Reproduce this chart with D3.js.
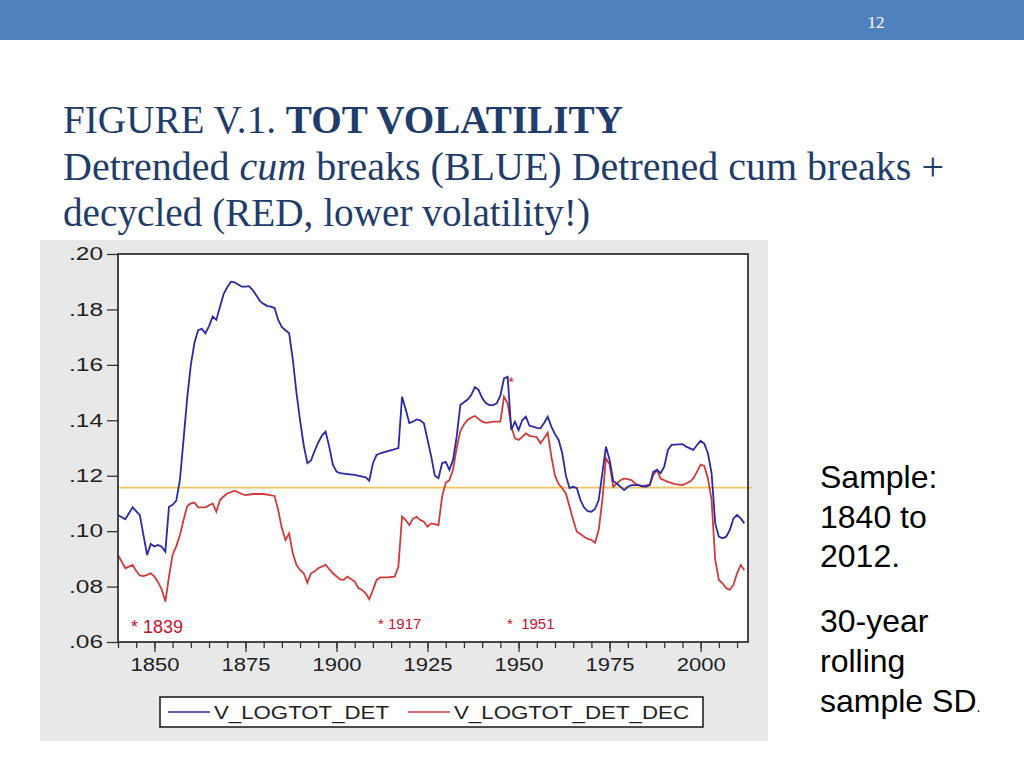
<!DOCTYPE html>
<html>
<head>
<meta charset="utf-8">
<script src="https://cdn.jsdelivr.net/npm/d3@7"></script>
<style>
  html, body { margin: 0; padding: 0; background: #fff; }
  svg { display: block; }
</style>
</head>
<body>
<svg id="slide" width="1024" height="768"></svg>
<script>
// series (year, rolling SD)
const blueYears = [1840,1842,1844,1846,1847,1848,1849,1850,1851,1852,1853,1854,1855,1856,1857,1858,1859,1860,1861,1862,1863,1864,1865,1866,1867,1868,1869,1870,1871,1872,1873,1874,1875,1876,1877,1878,1879,1880,1881,1882,1883,1884,1885,1886,1887,1888,1889,1890,1891,1892,1893,1894,1895,1896,1897,1898,1899,1900,1901,1903,1905,1908,1909,1910,1911,1912,1917,1918,1919,1920,1921,1922,1923,1924,1925,1926,1927,1928,1929,1930,1931,1932,1933,1934,1935,1936,1937,1938,1939,1940,1941,1942,1943,1944,1945,1946,1947,1948,1949,1950,1951,1952,1953,1954,1955,1956,1957,1958,1959,1960,1961,1962,1963,1964,1965,1966,1967,1968,1969,1970,1971,1972,1973,1974,1975,1976,1977,1978,1979,1980,1981,1983,1985,1986,1987,1988,1989,1990,1991,1992,1995,1996,1998,1999,2000,2001,2002,2003,2004,2005,2006,2007,2008,2009,2010,2011,2012];
const blueValues = [0.1058,0.1043,0.1086,0.1058,0.0985,0.0914,0.0954,0.0945,0.0950,0.0944,0.0926,0.1088,0.1095,0.1110,0.1184,0.1330,0.1480,0.1600,0.1680,0.1725,0.1730,0.1714,0.1740,0.1774,0.1762,0.1810,0.1855,0.1880,0.1900,0.1898,0.1890,0.1882,0.1882,0.1884,0.1870,0.1850,0.1830,0.1820,0.1812,0.1810,0.1805,0.1762,0.1736,0.1725,0.1714,0.1620,0.1500,0.1400,0.1310,0.1245,0.1255,0.1290,0.1320,0.1345,0.1359,0.1305,0.1240,0.1215,0.1209,0.1206,0.1203,0.1194,0.1182,0.1245,0.1275,0.1281,0.1300,0.1485,0.1440,0.1390,0.1395,0.1403,0.1400,0.1389,0.1330,0.1270,0.1200,0.1191,0.1245,0.1250,0.1221,0.1257,0.1341,0.1455,0.1465,0.1475,0.1491,0.1520,0.1510,0.1480,0.1462,0.1455,0.1455,0.1461,0.1490,0.1551,0.1557,0.1365,0.1395,0.1365,0.1400,0.1413,0.1380,0.1377,0.1373,0.1371,0.1390,0.1413,0.1377,0.1350,0.1329,0.1281,0.1200,0.1155,0.1160,0.1155,0.1112,0.1085,0.1072,0.1070,0.1080,0.1112,0.1209,0.1305,0.1257,0.1180,0.1172,0.1160,0.1148,0.1160,0.1166,0.1166,0.1160,0.1166,0.1214,0.1221,0.1209,0.1233,0.1293,0.1311,0.1314,0.1305,0.1293,0.1311,0.1326,0.1315,0.1281,0.1209,0.1028,0.0980,0.0974,0.0980,0.1004,0.1046,0.1058,0.1046,0.1028];

const redYears = [1840,1841,1842,1843,1844,1845,1846,1847,1848,1849,1850,1851,1852,1853,1854,1855,1856,1857,1858,1859,1860,1861,1862,1864,1866,1867,1868,1869,1870,1872,1874,1875,1877,1880,1883,1884,1885,1886,1887,1888,1889,1890,1891,1892,1893,1894,1895,1897,1899,1901,1902,1903,1905,1906,1907,1908,1909,1910,1911,1912,1914,1916,1917,1918,1919,1920,1921,1922,1923,1924,1925,1926,1927,1928,1929,1930,1931,1932,1933,1934,1935,1936,1937,1938,1939,1940,1941,1943,1945,1946,1947,1948,1949,1950,1951,1952,1953,1955,1956,1957,1958,1959,1960,1961,1962,1963,1964,1965,1966,1967,1968,1969,1970,1971,1972,1973,1974,1975,1976,1977,1978,1979,1981,1982,1984,1985,1986,1987,1988,1989,1991,1993,1995,1997,1998,1999,2000,2001,2002,2003,2004,2005,2006,2007,2008,2009,2010,2011,2012];
const redValues = [0.0914,0.0890,0.0866,0.0872,0.0878,0.0856,0.0840,0.0838,0.0842,0.0848,0.0836,0.0816,0.0790,0.0746,0.0836,0.0915,0.0945,0.0985,0.1040,0.1090,0.1100,0.1103,0.1086,0.1086,0.1100,0.1070,0.1112,0.1125,0.1136,0.1146,0.1134,0.1130,0.1134,0.1134,0.1127,0.1075,0.1010,0.0968,0.0992,0.0920,0.0878,0.0860,0.0848,0.0814,0.0848,0.0855,0.0866,0.0878,0.0848,0.0826,0.0824,0.0836,0.0818,0.0795,0.0788,0.0776,0.0754,0.0788,0.0824,0.0833,0.0833,0.0836,0.0872,0.1052,0.1040,0.1022,0.1045,0.1052,0.1040,0.1034,0.1016,0.1028,0.1025,0.1022,0.1124,0.1175,0.1184,0.1221,0.1300,0.1360,0.1385,0.1401,0.1410,0.1415,0.1405,0.1395,0.1391,0.1395,0.1395,0.1485,0.1461,0.1377,0.1335,0.1329,0.1340,0.1353,0.1344,0.1339,0.1317,0.1335,0.1355,0.1270,0.1200,0.1170,0.1155,0.1136,0.1088,0.1040,0.0998,0.0990,0.0980,0.0972,0.0968,0.0958,0.1004,0.1112,0.1263,0.1240,0.1160,0.1172,0.1184,0.1190,0.1184,0.1172,0.1160,0.1166,0.1166,0.1203,0.1221,0.1190,0.1178,0.1170,0.1166,0.1178,0.1190,0.1215,0.1240,0.1235,0.1190,0.1112,0.0896,0.0824,0.0812,0.0795,0.0788,0.0806,0.0848,0.0878,0.0860];

const refLevel = 0.1157;
const yTicks = [0.06, 0.08, 0.10, 0.12, 0.14, 0.16, 0.18, 0.20];
const xMajorTicks = [1850, 1875, 1900, 1925, 1950, 1975, 2000];
const xMinorTicks = d3.range(1840, 2011, 5);
const seriesNames = ["V_LOGTOT_DET", "V_LOGTOT_DET_DEC"];
const notes = [
  { year: 1839, text: "* 1839", x: 131, y: 633, size: 18 },
  { year: 1917, text: "* 1917", x: 378, y: 629, size: 15 },
  { year: 1951, text: "*  1951", x: 507, y: 629, size: 15 }
];

const blueColor = "#2a2aa6";
const redColor = "#d03a3a";

const svg = d3.select("#slide");

// slide chrome
svg.append("rect").attr("x", 0).attr("y", 0).attr("width", 1024).attr("height", 40).attr("fill", "#4f81bd");
svg.append("text").attr("x", 876).attr("y", 28).attr("text-anchor", "middle")
  .attr("font-family", "Liberation Serif, serif").attr("font-size", 17).attr("fill", "#fff").text("12");

const titleColor = "#1f3d6b";
const t1 = svg.append("text").attr("x", 63).attr("y", 133)
  .attr("font-family", "Liberation Serif, serif").attr("font-size", 39).attr("fill", titleColor)
  .attr("textLength", 560).attr("lengthAdjust", "spacingAndGlyphs");
t1.append("tspan").text("FIGURE V.1. ");
t1.append("tspan").attr("font-weight", "bold").text("TOT VOLATILITY");

const t2 = svg.append("text").attr("x", 63).attr("y", 180)
  .attr("font-family", "Liberation Serif, serif").attr("font-size", 39).attr("fill", titleColor)
  .attr("textLength", 881).attr("lengthAdjust", "spacingAndGlyphs");
t2.append("tspan").text("Detrended ");
t2.append("tspan").attr("font-style", "italic").text("cum");
t2.append("tspan").text(" breaks (BLUE) Detrened cum breaks +");

svg.append("text").attr("x", 63).attr("y", 226)
  .attr("font-family", "Liberation Serif, serif").attr("font-size", 39).attr("fill", titleColor)
  .attr("textLength", 527).attr("lengthAdjust", "spacingAndGlyphs")
  .text("decycled (RED, lower volatility!)");

// right hand notes
const side = svg.append("g").attr("font-family", "Liberation Sans, Arial, sans-serif")
  .attr("font-size", 32).attr("fill", "#000");
[["Sample:", 488], ["1840 to", 528], ["2012.", 567], ["30-year", 632], ["rolling", 672]].forEach(([s, y]) => {
  side.append("text").attr("x", 820).attr("y", y).text(s);
});
const last = side.append("text").attr("x", 820).attr("y", 712);
last.append("tspan").text("sample SD");
last.append("tspan").attr("font-size", 14).text(".");

// chart panel
svg.append("rect").attr("x", 40).attr("y", 240).attr("width", 728).attr("height", 501).attr("fill", "#e8e8e8");

const plot = { left: 118, right: 748, top: 254, bottom: 642 };
const x = d3.scaleLinear().domain([1840, 2013]).range([plot.left, plot.right]);
const y = d3.scaleLinear().domain([0.06, 0.20]).range([plot.bottom, plot.top]);

svg.append("rect").attr("x", plot.left).attr("y", plot.top)
  .attr("width", plot.right - plot.left).attr("height", plot.bottom - plot.top)
  .attr("fill", "#fff");

// axes
const yAxis = svg.append("g").attr("transform", `translate(${plot.left},0)`)
  .call(d3.axisLeft(y).tickValues(yTicks).tickFormat(d => d3.format(".2f")(d).replace(/^0/, ""))
    .tickSize(11).tickPadding(4));
yAxis.select(".domain").remove();
yAxis.selectAll("line").attr("stroke", "#333").attr("stroke-width", 1.3);
yAxis.selectAll("text").attr("font-family", "Liberation Sans, Arial, sans-serif").attr("font-size", 18)
  .attr("fill", "#222").attr("textLength", 34).attr("lengthAdjust", "spacingAndGlyphs");

const xMinor = svg.append("g").attr("transform", `translate(0,${plot.bottom})`)
  .call(d3.axisBottom(x).tickValues(xMinorTicks).tickSize(6).tickFormat(""));
xMinor.select(".domain").remove();
xMinor.selectAll("line").attr("stroke", "#333").attr("stroke-width", 1.3);

const xAxis = svg.append("g").attr("transform", `translate(0,${plot.bottom})`)
  .call(d3.axisBottom(x).tickValues(xMajorTicks).tickFormat(d3.format("d")).tickSize(10).tickPadding(6));
xAxis.select(".domain").remove();
xAxis.selectAll("line").attr("stroke", "#333").attr("stroke-width", 1.3);
xAxis.selectAll("text").attr("font-family", "Liberation Sans, Arial, sans-serif").attr("font-size", 18)
  .attr("fill", "#222").attr("textLength", 49).attr("lengthAdjust", "spacingAndGlyphs");

// mean line
svg.append("line")
  .attr("x1", plot.left).attr("x2", plot.right + 4)
  .attr("y1", y(refLevel)).attr("y2", y(refLevel))
  .attr("stroke", "#f2c45e").attr("stroke-width", 1.6);

const line = d3.line().x(d => x(d[0])).y(d => y(d[1]));

svg.append("path").datum(d3.zip(redYears, redValues))
  .attr("fill", "none").attr("stroke", redColor).attr("stroke-width", 1.8).attr("d", line);
svg.append("path").datum(d3.zip(blueYears, blueValues))
  .attr("fill", "none").attr("stroke", blueColor).attr("stroke-width", 1.8).attr("d", line);

// frame
svg.append("rect").attr("x", plot.left).attr("y", plot.top)
  .attr("width", plot.right - plot.left).attr("height", plot.bottom - plot.top)
  .attr("fill", "none").attr("stroke", "#333").attr("stroke-width", 1.8);

// annotations
svg.selectAll("text.note").data(notes).enter().append("text").attr("class", "note")
  .attr("x", d => d.x).attr("y", d => d.y)
  .attr("font-family", "Liberation Sans, Arial, sans-serif").attr("font-size", d => d.size)
  .attr("fill", "#c4122c").attr("xml:space", "preserve").style("white-space", "pre")
  .text(d => d.text);

// star marking the 1948 break
svg.append("text").attr("x", x(1948)).attr("y", y(0.1557) + 10).attr("text-anchor", "middle")
  .attr("font-family", "Liberation Sans, Arial, sans-serif").attr("font-size", 14)
  .attr("fill", "#d0102a").text("*");

// legend
const legend = svg.append("g");
legend.append("rect").attr("x", 160).attr("y", 697).attr("width", 543).attr("height", 30)
  .attr("fill", "#fff").attr("stroke", "#222").attr("stroke-width", 1.6);
const legendItems = [
  { name: seriesNames[0], color: blueColor, x0: 168, tx: 214, tw: 175 },
  { name: seriesNames[1], color: redColor, x0: 408, tx: 454, tw: 235 }
];
legendItems.forEach(it => {
  legend.append("line").attr("x1", it.x0).attr("x2", it.x0 + 42).attr("y1", 712).attr("y2", 712)
    .attr("stroke", it.color).attr("stroke-width", 1.6);
  legend.append("text").attr("x", it.tx).attr("y", 719)
    .attr("font-family", "Liberation Sans, Arial, sans-serif").attr("font-size", 19).attr("fill", "#222")
    .attr("textLength", it.tw).attr("lengthAdjust", "spacingAndGlyphs").text(it.name);
});
</script>
</body>
</html>
